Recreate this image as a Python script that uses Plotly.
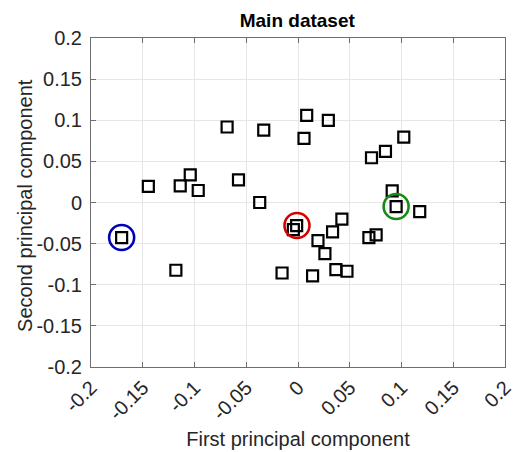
import plotly.graph_objects as go

# Data
pc1 = [-0.1704, -0.1446, -0.1138, -0.1041, -0.0964, -0.1180, -0.0685, -0.0575,
       -0.0331, -0.0370, 0.0084, 0.0293, 0.0058, -0.0013, -0.0045, 0.0424,
       0.0334, 0.0193, 0.0260, -0.0154, 0.0141, 0.0366, 0.0473, 0.0685,
       0.0755, 0.0710, 0.0845, 0.1022, 0.0910, 0.0948, 0.1176]
pc2 = [-0.0426, 0.0195, 0.0203, 0.0337, 0.0146, -0.0824, 0.0918, 0.0276,
       0.0881, 0.0000, 0.1060, 0.0999, 0.0780, -0.0280, -0.0329, -0.0203,
       -0.0357, -0.0463, -0.0621, -0.0857, -0.0893, -0.0816, -0.0836, -0.0426,
       -0.0394, 0.0544, 0.0621, 0.0796, 0.0142, -0.0049, -0.0110]

highlight_x = [-0.1704, -0.0010, 0.0948]
highlight_y = [-0.0426, -0.0280, -0.0049]
highlight_colors = ["#0000b4", "#d40000", "#148c14"]

tick_vals = [-0.2, -0.15, -0.1, -0.05, 0, 0.05, 0.1, 0.15, 0.2]
tick_text = ["-0.2", "-0.15", "-0.1", "-0.05", "0", "0.05", "0.1", "0.15", "0.2"]

FONT = "Liberation Sans, Arial, sans-serif"

fig = go.Figure()
fig.add_trace(go.Scatter(
    x=pc1, y=pc2, mode="markers",
    marker=dict(symbol="square-open", size=11, color="black",
                line=dict(width=2.2, color="black")),
    showlegend=False, hoverinfo="skip"))
fig.add_trace(go.Scatter(
    x=highlight_x, y=highlight_y, mode="markers",
    marker=dict(symbol="circle-open", size=25, color=highlight_colors,
                line=dict(width=2.6, color=highlight_colors)),
    showlegend=False, hoverinfo="skip"))

axis_common = dict(
    range=[-0.2, 0.2], tickvals=tick_vals, ticktext=tick_text,
    showgrid=True, gridcolor="#e6e6e6", gridwidth=1,
    zeroline=False, showline=True, linecolor="#6e6e6e", linewidth=1,
    mirror="ticks", ticks="inside", ticklen=5, tickcolor="#6e6e6e",
    tickfont=dict(family=FONT, size=20, color="#262626"),
    automargin=False,
)

fig.update_layout(
    width=517, height=452,
    margin=dict(l=91, r=12, t=38, b=85),
    paper_bgcolor="white", plot_bgcolor="white",
    title=dict(text="<b>Main dataset</b>", x=0.575, xanchor="center",
               y=0.955, yanchor="middle",
               font=dict(family=FONT, size=19, color="black")),
    xaxis=dict(**axis_common, tickangle=-45,
               title=dict(text="First principal component", standoff=8,
                          font=dict(family=FONT, size=20, color="#262626"))),
    yaxis=dict(**axis_common, ticklabelstandoff=4),
    annotations=[dict(text="Second principal component", textangle=-90,
                      xref="paper", yref="paper", x=-0.159, y=0.49,
                      xanchor="center", yanchor="middle", showarrow=False,
                      font=dict(family=FONT, size=20, color="#262626"))],
)

fig.write_html("out.html", config={"displayModeBar": False},
               post_script="document.body.style.margin='0';document.body.style.overflow='hidden';")
